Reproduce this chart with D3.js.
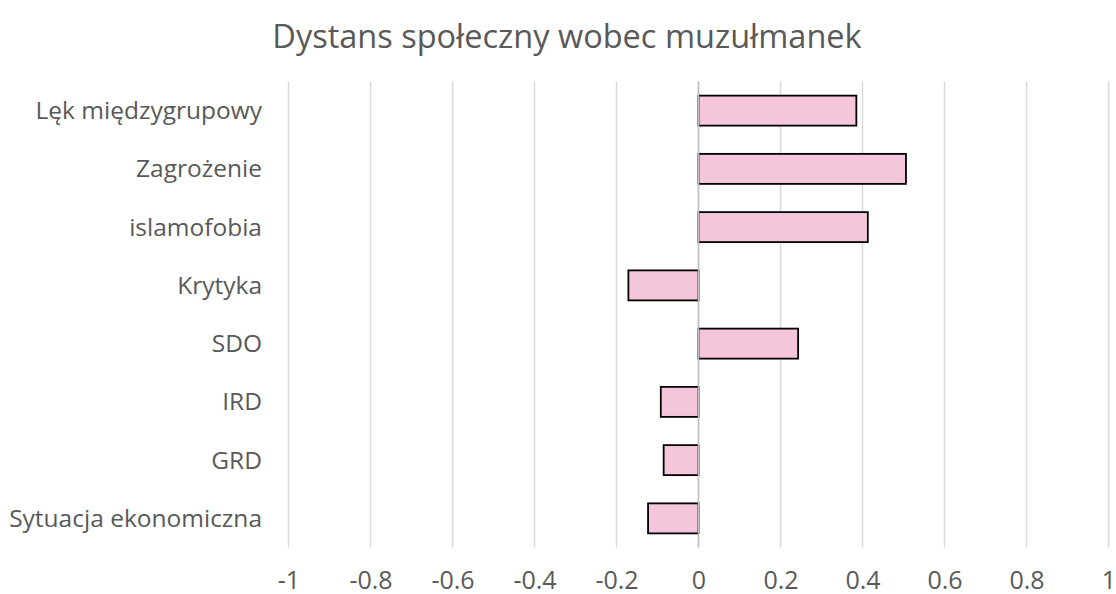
<!DOCTYPE html>
<html><head><meta charset="utf-8">
<script src="https://cdn.jsdelivr.net/npm/d3@7/dist/d3.min.js"></script>
<style>body{margin:0;background:#fff}svg{display:block}text{font-family:"Open Sans",sans-serif;fill:#595959}</style>
</head><body>
<svg id="c" width="1116" height="594"></svg>
<script>
const title = "Dystans społeczny wobec muzułmanek";
const categories = ["Lęk międzygrupowy","Zagrożenie","islamofobia","Krytyka","SDO","IRD","GRD","Sytuacja ekonomiczna"];
const values = [0.385, 0.506, 0.413, -0.171, 0.243, -0.092, -0.085, -0.123];
const xTicks = [-1,-0.8,-0.6,-0.4,-0.2,0,0.2,0.4,0.6,0.8,1];

const svg = d3.select("#c");
const L = 288.5, R = 1108.5, T = 81.5, B = 547.5;
const x = d3.scaleLinear().domain([-1,1]).range([L,R]);
const y = d3.scaleBand().domain(categories).range([T,B]).paddingInner(0.485).paddingOuter(0.2425);

svg.append("g").selectAll("line").data(xTicks).join("line")
  .attr("x1",d=>x(d)).attr("x2",d=>x(d)).attr("y1",T).attr("y2",B)
  .attr("stroke","#d9d9d9").attr("stroke-width",1.5);

svg.append("g").selectAll("rect").data(values).join("rect")
  .attr("x",d=>x(Math.min(0,d))).attr("width",d=>Math.abs(x(d)-x(0)))
  .attr("y",(d,i)=>y(categories[i])).attr("height",y.bandwidth())
  .attr("fill","#f5c5db").attr("stroke","#000").attr("stroke-width",1.8);

svg.append("line").attr("x1",x(0)).attr("x2",x(0)).attr("y1",T).attr("y2",B)
  .attr("stroke","#bfbfbf").attr("stroke-width",1.5);

const xa = svg.append("g").attr("transform",`translate(0,${B})`)
  .call(d3.axisBottom(x).tickValues(xTicks).tickSize(0).tickPadding(0).tickFormat(d=>d===0?"0":String(d)));
xa.select(".domain").remove();
xa.selectAll("text").attr("dy",null).attr("y",41).style("font-size","25px").style("fill","#595959");

const ya = svg.append("g").attr("transform",`translate(${262},0)`)
  .call(d3.axisLeft(y).tickSize(0).tickPadding(0));
ya.select(".domain").remove();
ya.selectAll("text").attr("dy","0.35em").style("font-size","24.5px").style("fill","#595959");

svg.append("text").attr("x",567).attr("y",48).attr("text-anchor","middle")
  .style("font-size","32.5px").text(title);
</script>
</body></html>
